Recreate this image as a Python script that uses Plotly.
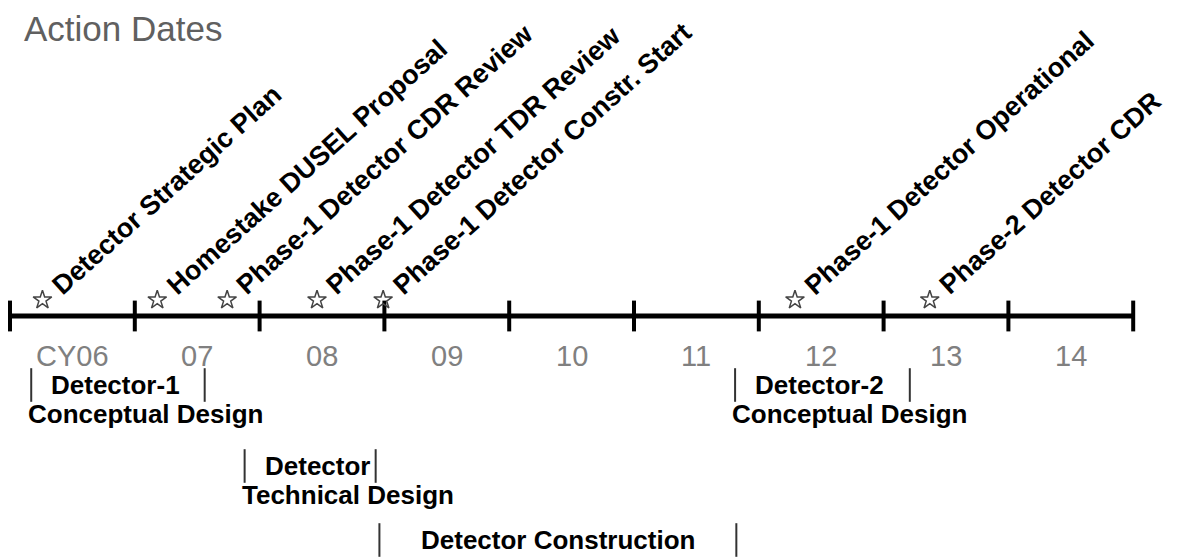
"""Detector action dates timeline (CY06-14)."""
import plotly.graph_objects as go

# Year boundaries of the timeline and their labels
YEAR_EDGES = [2006, 2007, 2008, 2009, 2010, 2011, 2012, 2013, 2014, 2015]
YEAR_LABELS = ["CY06", "07", "08", "09", "10", "11", "12", "13", "14"]

# Milestones (fractional calendar year)
EVENT_DATES = [2006.26, 2007.18, 2007.74, 2008.46, 2008.99, 2012.29, 2013.37]
EVENT_NAMES = [
    "Detector Strategic Plan",
    "Homestake DUSEL Proposal",
    "Phase-1 Detector CDR Review",
    "Phase-1 Detector TDR Review",
    "Phase-1 Detector Constr. Start",
    "Phase-1 Detector Operational",
    "Phase-2 Detector CDR",
]

# Design / construction periods shown under the axis
PHASE_TITLES = ["Detector-1", "Detector", "Detector Construction", "Detector-2"]
PHASE_SUBTITLES = ["Conceptual Design", "Technical Design", "", "Conceptual Design"]
PHASE_STARTS = [2006.17, 2007.88, 2008.96, 2011.81]
PHASE_ENDS = [2007.56, 2008.93, 2011.82, 2013.21]

FONT = "Arial, Liberation Sans, sans-serif"
LINE_Y = 316
PHASE_ROWS = [385, 466, 540, 385]  # pixel rows of the phase titles
PX_PER_YEAR = 124.8

fig = go.Figure()

# main axis line
fig.add_trace(go.Scatter(
    x=[YEAR_EDGES[0], YEAR_EDGES[-1]], y=[LINE_Y, LINE_Y], mode="lines",
    line=dict(color="black", width=5), hoverinfo="skip",
))
# year ticks
fig.add_trace(go.Scatter(
    x=YEAR_EDGES, y=[LINE_Y] * len(YEAR_EDGES), mode="markers",
    marker=dict(symbol="line-ns", size=22, line=dict(color="black", width=4)),
    hoverinfo="skip",
))
# milestone stars
fig.add_trace(go.Scatter(
    x=EVENT_DATES, y=[LINE_Y - 16] * len(EVENT_DATES), mode="markers",
    marker=dict(symbol="star-open", size=14, color="#444", line=dict(width=1.5)),
    hoverinfo="skip",
))
# phase bracket bars
bar_x, bar_y = [], []
for s, e, r in zip(PHASE_STARTS, PHASE_ENDS, PHASE_ROWS):
    bar_x += [s, e]
    bar_y += [r, r]
fig.add_trace(go.Scatter(
    x=bar_x, y=bar_y, mode="markers",
    marker=dict(symbol="line-ns", size=24, line=dict(color="#333", width=2)),
    hoverinfo="skip",
))

# milestone labels, rotated
for d, name in zip(EVENT_DATES, EVENT_NAMES):
    fig.add_annotation(
        x=d, y=LINE_Y - 13, text=name, showarrow=False, textangle=-42,
        xanchor="left", yanchor="bottom", xshift=1,
        font=dict(family=FONT, size=27, color="black", weight="bold"),
    )

# year labels
for lo, hi, lab in zip(YEAR_EDGES[:-1], YEAR_EDGES[1:], YEAR_LABELS):
    fig.add_annotation(
        x=(lo + hi) / 2, y=356, text=lab, showarrow=False,
        font=dict(family=FONT, size=29, color="#808080"),
    )

# phase titles
for t, sub, s, e, r in zip(PHASE_TITLES, PHASE_SUBTITLES, PHASE_STARTS, PHASE_ENDS, PHASE_ROWS):
    if sub:
        fig.add_annotation(
            x=s, y=r, text=t, showarrow=False, xanchor="left", xshift=18,
            font=dict(family=FONT, size=26, color="black", weight="bold"),
        )
        fig.add_annotation(
            x=s, y=r + 29, text=sub, showarrow=False, xanchor="left", xshift=-5,
            font=dict(family=FONT, size=26, color="black", weight="bold"),
        )
    else:
        fig.add_annotation(
            x=(s + e) / 2, y=r, text=t, showarrow=False,
            font=dict(family=FONT, size=26, color="black", weight="bold"),
        )

fig.add_annotation(
    x=0.012, y=28, xref="paper", text="Action Dates",
    showarrow=False, xanchor="left", yanchor="middle",
    font=dict(family=FONT, size=35, color="#606060"),
)

# page body has an 8px margin; shift the axes so page pixels line up
fig.update_layout(
    width=1177, height=560,
    margin=dict(l=0, r=0, t=0, b=0),
    plot_bgcolor="white", paper_bgcolor="white",
    showlegend=False,
    xaxis=dict(range=[2006 - 2 / PX_PER_YEAR, 2006 + 1175 / PX_PER_YEAR],
               visible=False, fixedrange=True),
    yaxis=dict(range=[568, 8], visible=False, fixedrange=True),
)

fig.write_html("out.html")
